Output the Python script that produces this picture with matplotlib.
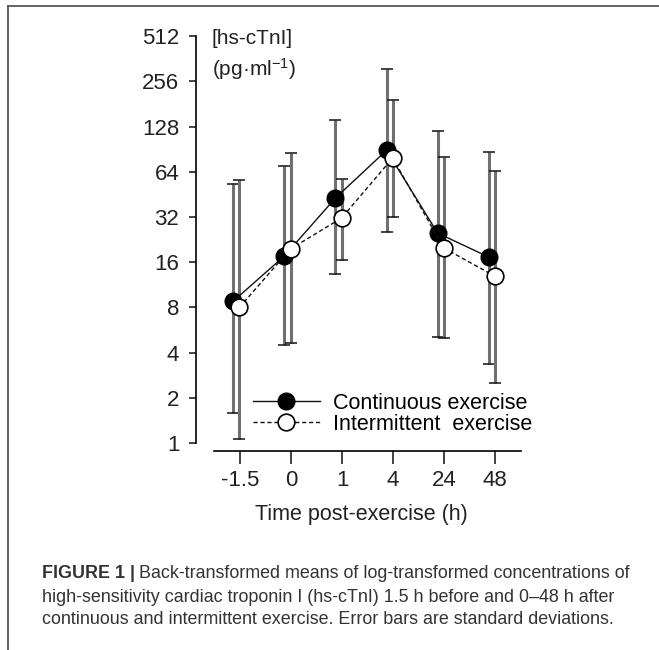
import matplotlib
matplotlib.use("Agg")
import matplotlib.pyplot as plt
from matplotlib.lines import Line2D
import numpy as np

plt.rcParams['font.family'] = ['Liberation Sans', 'DejaVu Sans']
plt.rcParams['mathtext.default'] = 'regular'

time_labels = ["-1.5", "0", "1", "4", "24", "48"]
y_ticks = [1, 2, 4, 8, 16, 32, 64, 128, 256, 512]

cont_mean = [8.8, 17.6, 42.8, 89, 25, 17.3]
cont_low = [1.58, 4.5, 13.4, 25.4, 5.1, 3.36]
cont_high = [53, 70, 142, 309, 120, 87]

inter_mean = [8.0, 19.6, 31.5, 79, 19.9, 12.9]
inter_low = [1.06, 4.6, 16.5, 32, 5.0, 2.5]
inter_high = [56.5, 85.5, 57, 192, 80, 65]

W, H = 659, 650
fig = plt.figure(figsize=(W / 100, H / 100), dpi=100)
ax = fig.add_axes([196 / W, 1 - 451 / H, (526 - 196) / W, (451 - 30) / H])

x = np.arange(len(time_labels))
xc = x - 0.13
xi = x - 0.01

def draw_err(xs, mean, low, high):
    mean = np.array(mean)
    yerr = [mean - np.array(low), np.array(high) - mean]
    _, caps, _ = ax.errorbar(xs, mean, yerr=yerr, fmt='none', ecolor='#707070',
                             elinewidth=2.2, capsize=4, capthick=1.1, zorder=1)
    for c in caps:
        c.set_markeredgecolor('#111111')

draw_err(xc, cont_mean, cont_low, cont_high)
draw_err(xi, inter_mean, inter_low, inter_high)

ax.plot(xc, cont_mean, '-', color='#111111', lw=1.0, marker='o', ms=12,
        mfc='black', mec='black', zorder=3, label='Continuous exercise')
ax.plot(xi, inter_mean, '--', color='#111111', lw=1.0, dashes=(3, 2), marker='o',
        ms=12, mfc='white', mec='black', mew=1.2, zorder=4,
        label='Intermittent  exercise')

ax.set_yscale('log', base=2)
ax.set_ylim(0.884, 563)
ax.set_xlim(-0.86, 5.6)
ax.set_yticks(y_ticks)
ax.set_yticklabels([str(v) for v in y_ticks])
ax.minorticks_off()
ax.set_xticks(x)
ax.set_xticklabels(time_labels)

for s in ['top', 'right']:
    ax.spines[s].set_visible(False)
ax.spines['left'].set_bounds(1, 512)
ax.spines['bottom'].set_bounds(-0.5, 5.5)
ax.spines['left'].set_linewidth(1.2)
ax.spines['bottom'].set_linewidth(1.2)
ax.tick_params(axis='y', length=5, width=1.2, pad=7, labelsize=16, colors='#222222')
ax.tick_params(axis='x', length=9, width=1.2, pad=5, labelsize=16, colors='#222222')
ax.patch.set_alpha(0)

ax.set_xlabel("Time post-exercise (h)", fontsize=15.5, color='#222222', labelpad=9)

fig.text(212 / W, 1 - 39 / H, "[hs-cTnI]", fontsize=15, color='#222222', va='center')
fig.text(212 / W, 1 - 69 / H, "(pg·ml$^{-1}$)", fontsize=15, color='#222222', va='center')

ax.legend(loc='center left', bbox_to_anchor=(253 / W, 1 - 414 / H),
          bbox_transform=fig.transFigure, frameon=False, fontsize=15.5,
          handlelength=3.1, handletextpad=0.6, labelspacing=0.0,
          borderpad=0, borderaxespad=0, numpoints=1)

# frame lines
fig.add_artist(Line2D([8 / W, 1], [1 - 6 / H, 1 - 6 / H], color='#555555', lw=1.3,
                      transform=fig.transFigure))
fig.add_artist(Line2D([8 / W, 8 / W], [0, 1 - 6 / H], color='#555555', lw=1.3,
                      transform=fig.transFigure))

# caption
cap_color = '#333333'
cap_size = 12.9
t_bold = fig.text(42 / W, 1 - 573 / H, "FIGURE 1 |", fontsize=cap_size,
                  fontweight='bold', color=cap_color, va='center')
fig.canvas.draw()
bb = t_bold.get_window_extent(fig.canvas.get_renderer())
fig.text((bb.x1 + 4) / W, 1 - 573 / H,
         "Back-transformed means of log-transformed concentrations of",
         fontsize=cap_size, color=cap_color, va='center')
fig.text(42 / W, 1 - 597 / H,
         "high-sensitivity cardiac troponin I (hs-cTnI) 1.5 h before and 0\u201348 h after",
         fontsize=cap_size, color=cap_color, va='center')
fig.text(42 / W, 1 - 620 / H,
         "continuous and intermittent exercise. Error bars are standard deviations.",
         fontsize=cap_size, color=cap_color, va='center')

fig.savefig("out.png", dpi=100)
